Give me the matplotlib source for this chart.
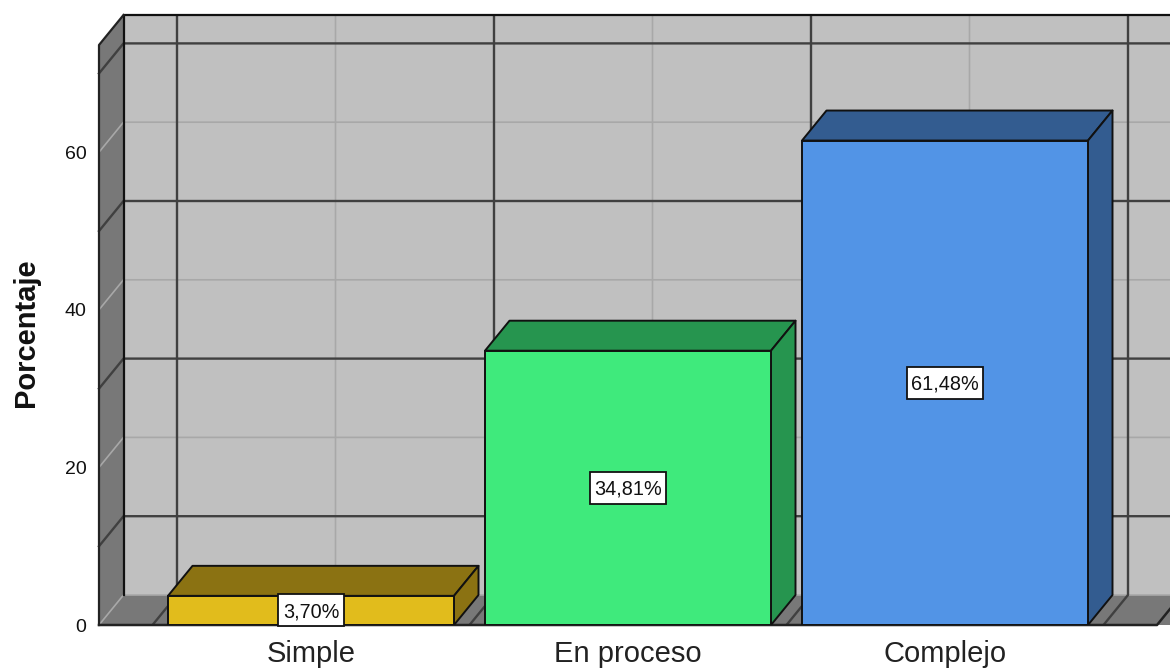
import matplotlib
matplotlib.use("Agg")
import matplotlib.pyplot as plt
from matplotlib.patches import Polygon, Rectangle

categories = ["Simple", "En proceso", "Complejo"]
percentages = [3.70, 34.81, 61.48]
value_labels = ["3,70%", "34,81%", "61,48%"]
y_ticks = [0, 20, 40, 60]
major_grid_values = [10, 30, 50, 70]
minor_grid_values = [0, 20, 40, 60]
front_colors = ["#E1BC1C", "#3FEA7C", "#5294E6"]
top_colors = ["#8B7212", "#26954F", "#335C90"]

W, H = 1170, 669
PX_Y = 7.88
PX_X = 317.0
X0 = 311.0
Y0 = 625
plt.rcParams["font.family"] = ["Liberation Sans", "DejaVu Sans"]
fig = plt.figure(figsize=(W / 100, H / 100), dpi=100)
ax = fig.add_axes([99 / W, 1 - Y0 / H, (W - 99) / W, (Y0 - 15) / H])
x_min = (99 - X0) / PX_X
x_max = (W - X0) / PX_X
y_max = (Y0 - 45) / PX_Y
dx = 24.5 / PX_X
dy = 30 / PX_Y
ax.set_xlim(x_min, x_max)
ax.set_ylim(0, y_max + dy)
for s in ax.spines.values():
    s.set_visible(False)
ax.patch.set_alpha(0)

WALL = "#C0C0C0"
SIDE = "#787878"
DARK = "#404040"
LIGHT = "#A8A8A8"
far = x_max + 0.2

def poly(pts, fc, z, ec="none", lw=0):
    ax.add_patch(Polygon(pts, closed=True, facecolor=fc, edgecolor=ec, linewidth=lw,
                         zorder=z, joinstyle="round"))

# walls
poly([(x_min + dx, dy), (far, dy), (far, y_max + dy), (x_min + dx, y_max + dy)], WALL, 1)
poly([(x_min, 0), (x_min + dx, dy), (x_min + dx, y_max + dy), (x_min, y_max)], SIDE, 1.2)
poly([(x_min, 0), (x_min + dx, dy), (far + dx, dy), (far, 0)], SIDE, 1.2)

LW = 1.7
# back wall grid (horizontal)
for v in minor_grid_values:
    ax.plot([x_min, x_min + dx, x_max], [v, v + dy, v + dy], color=LIGHT, lw=1.2, zorder=2)
for v in major_grid_values:
    ax.plot([x_min, x_min + dx, x_max], [v, v + dy, v + dy], color=DARK, lw=LW, zorder=2.1,
            clip_on=False)
# back wall grid (vertical + floor)
for i in range(len(categories)):
    bx = i + dx
    ax.plot([i, bx, bx], [0, dy, y_max + dy], color=LIGHT, lw=1.2, zorder=2)
for i in range(len(categories) + 1):
    bx = i - 0.5 + dx
    ax.plot([i - 0.5, bx, bx], [0, dy, y_max + dy], color=DARK, lw=LW, zorder=2.1)

# borders
ax.plot([x_min + dx, x_max], [y_max + dy] * 2, color="#111111", lw=1.6, zorder=3, clip_on=False)
ax.plot([x_min + dx, x_min + dx], [dy, y_max + dy], color="#111111", lw=1.6, zorder=3)
ax.plot([x_min, x_min, x_min + dx], [0, y_max, y_max + dy], color="#222222", lw=1.6, zorder=3,
        clip_on=False)
ax.plot([x_min, (1157 - X0) / PX_X, x_max], [0, 0, 16 / PX_Y], color="#222222", lw=1.8, zorder=3,
        clip_on=False)

# bars
width = 286 / PX_X
fig.canvas.draw()
renderer = fig.canvas.get_renderer()
for i, (v, fc, tc) in enumerate(zip(percentages, front_colors, top_colors)):
    l, r = i - width / 2, i + width / 2
    poly([(l, v), (r, v), (r + dx, v + dy), (l + dx, v + dy)], tc, 4 + i, "#111111", 1.4)
    poly([(r, 0), (r + dx, dy), (r + dx, v + dy), (r, v)], tc, 4 + i, "#111111", 1.4)
    ax.bar(i, v, width=width, color=fc, edgecolor="#111111", linewidth=1.4, zorder=4.2 + i)
    t = ax.text(i, v / 2 - 1.2 / PX_Y, value_labels[i], ha="center", va="center", fontsize=14.3,
                color="#111111", zorder=9)
    box_w = (t.get_window_extent(renderer).width + 9) / PX_X
    box_h = 32 / PX_Y
    ax.add_patch(Rectangle((i - box_w / 2, v / 2 - box_h / 2), box_w, box_h, facecolor="white",
                           edgecolor="#111111", linewidth=1.3, zorder=8, clip_on=False))

ax.set_xticks(range(len(categories)))
ax.set_xticklabels(categories, fontsize=21, color="#222222")
ax.set_yticks(y_ticks)
ax.set_yticklabels([str(t) for t in y_ticks], fontsize=14, color="#111111")
ax.tick_params(axis="both", length=0)
ax.tick_params(axis="x", pad=11)
ax.tick_params(axis="y", pad=9)
fig.text(26 / W, 1 - 333 / H, "Porcentaje", rotation=90, ha="center", va="center",
         fontsize=21, fontweight="bold", color="#111111")
fig.savefig("out.png", dpi=100, facecolor="white")
